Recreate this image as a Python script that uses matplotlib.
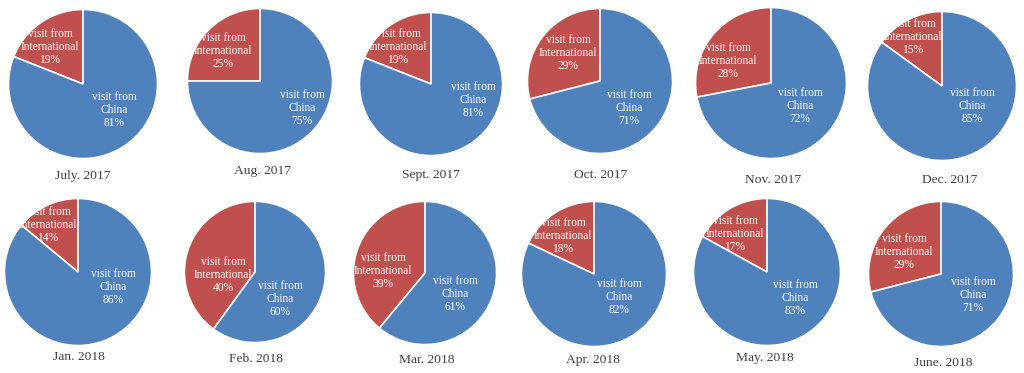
import matplotlib.pyplot as plt

months = ["July. 2017", "Aug. 2017", "Sept. 2017", "Oct. 2017", "Nov. 2017", "Dec. 2017",
          "Jan. 2018", "Feb. 2018", "Mar. 2018", "Apr. 2018", "May. 2018", "June. 2018"]
china = [81, 75, 81, 71, 72, 85, 86, 60, 61, 82, 83, 71]
international = [19, 25, 19, 29, 28, 15, 14, 40, 39, 18, 17, 29]

# layout in pixels (pie centre, radius, label and caption positions)
centers = [(83, 84), (260, 81), (431, 84), (600, 81), (771, 83), (942, 86),
           (78, 272), (255, 272), (425, 273), (594, 274), (767, 272), (941, 274)]
radii = [76, 74, 73, 74, 77, 76, 75, 72, 73, 74, 75, 74]
intl_pos = [(50, 47), (223, 51), (398, 47), (568, 53), (728, 61), (913, 37),
            (48, 225), (223, 275), (383, 271), (563, 236), (735, 234), (904, 252)]
china_pos = [(114, 110), (302, 108), (473, 100), (629, 108), (800, 106), (972, 106),
             (113, 287), (280, 299), (455, 294), (619, 297), (795, 298), (973, 295)]
cap_pos = [(83, 176), (262, 171), (431, 175), (601, 175), (773, 180), (950, 180),
           (79, 357), (256, 359), (427, 360), (593, 360), (765, 358), (943, 363)]

W, H = 1024, 373
BLUE = "#4f81bd"
RED = "#c0504d"

plt.rcParams["font.family"] = ["Liberation Serif", "DejaVu Serif"]
fig = plt.figure(figsize=(W / 100, H / 100), dpi=100)


def fx(x, y):
    return x / W, 1 - y / H


for i in range(12):
    cx, cy = centers[i]
    r = radii[i]
    ax = fig.add_axes([(cx - r) / W, 1 - (cy + r) / H, 2 * r / W, 2 * r / H])
    ax.pie([international[i], china[i]], colors=[RED, BLUE], startangle=90,
           counterclock=True, radius=1,
           wedgeprops=dict(edgecolor="white", linewidth=1.2))
    ax.set_xlim(-1.02, 1.02)
    ax.set_ylim(-1.02, 1.02)
    ax.set_aspect("equal")
    ax.axis("off")

for i in range(12):
    fig.text(*fx(*intl_pos[i]), "visit from\nInternational\n%d%%" % international[i],
             ha="center", va="center", color="white", fontsize=8.3, linespacing=1.15)
    fig.text(*fx(*china_pos[i]), "visit from\nChina\n%d%%" % china[i],
             ha="center", va="center", color="white", fontsize=8.3, linespacing=1.15)
    fig.text(*fx(*cap_pos[i]), months[i], ha="center", va="center",
             fontsize=9.7, color="#404040")

fig.savefig("out.png", dpi=100)
